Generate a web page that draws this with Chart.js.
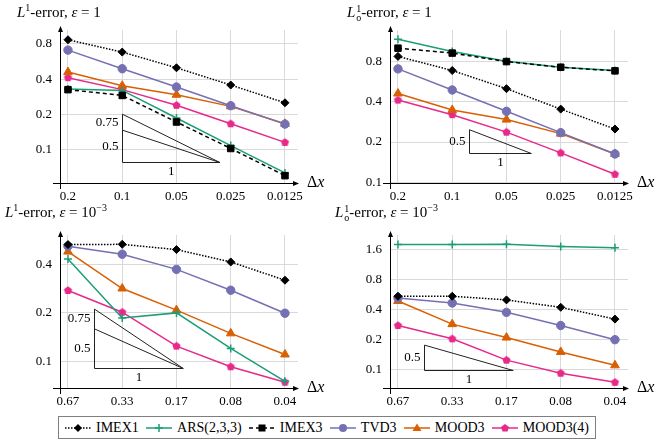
<!DOCTYPE html>
<html>
<head>
<meta charset="utf-8">
<script src="https://cdn.jsdelivr.net/npm/chart.js@4.4.1/dist/chart.umd.min.js"></script>
<style>
  html, body { margin: 0; padding: 0; background: #fff; }
  #wrap { position: relative; width: 661px; height: 443px; font-family: "Liberation Serif", "DejaVu Serif", serif; color: #000; }
  .panel { position: absolute; width: 330px; height: 205px; }
  .title { position: absolute; font-size: 15px; white-space: nowrap; line-height: 18px; }
  .title sup { font-size: 10px; vertical-align: 6px; line-height: 0; }
  .ss { display: inline-block; vertical-align: -4px; line-height: 9px; font-size: 10px; margin-left: 1px; }
  .ss span { display: block; }
  #legend { position: absolute; left: 58px; top: 416px; width: 538px; height: 23px; border: 1px solid #7f7f7f;
            display: flex; align-items: center; justify-content: space-between; padding: 0 6px; box-sizing: border-box; font-size: 14px; }
  #legend .item { display: flex; align-items: center; }
  #legend svg { margin-right: 5px; }
</style>
</head>
<body>
<div id="wrap">
  <div class="panel" style="left:0;top:0"><canvas id="c1" width="330" height="205"></canvas></div>
  <div class="panel" style="left:330px;top:0"><canvas id="c2" width="330" height="205"></canvas></div>
  <div class="panel" style="left:0;top:205px"><canvas id="c3" width="330" height="205"></canvas></div>
  <div class="panel" style="left:330px;top:205px"><canvas id="c4" width="330" height="205"></canvas></div>

  <div class="title" style="left:17px;top:3px"><i>L</i><sup>1</sup>-error, <i>ε</i> = 1</div>
  <div class="title" style="left:347px;top:3px"><i>L</i><span class="ss"><span>1</span><span>o</span></span>-error, <i>ε</i> = 1</div>
  <div class="title" style="left:5px;top:203px"><i>L</i><sup>1</sup>-error, <i>ε</i> = 10<sup>−3</sup></div>
  <div class="title" style="left:335px;top:203px"><i>L</i><span class="ss"><span>1</span><span>o</span></span>-error, <i>ε</i> = 10<sup>−3</sup></div>

  <div id="legend"></div>
</div>

<script>
// x tick labels (grid sizes)
const dxTop = ['0.2', '0.1', '0.05', '0.025', '0.0125'];
const dxBottom = ['0.67', '0.33', '0.17', '0.08', '0.04'];

// y tick labels
const yTicksA = [0.1, 0.2, 0.4, 0.8];
const yTicksB = [0.1, 0.2, 0.4];
const yTicksC = [0.1, 0.2, 0.4, 0.8, 1.6];

// L1 error, eps = 1
const l1Eps1Imex1 = [0.866, 0.68, 0.50, 0.357, 0.252];
const l1Eps1Ars = [0.330, 0.321, 0.187, 0.109, 0.0638];
const l1Eps1Imex3 = [0.326, 0.291, 0.173, 0.103, 0.0605];
const l1Eps1Tvd3 = [0.707, 0.491, 0.343, 0.238, 0.166];
const l1Eps1Mood3 = [0.460, 0.352, 0.295, 0.235, 0.167];
const l1Eps1Mood34 = [0.412, 0.326, 0.240, 0.167, 0.116];

// L1_o error, eps = 1
const lo1Eps1Imex1 = [0.870, 0.683, 0.500, 0.352, 0.250];
const lo1Eps1Ars = [1.167, 0.947, 0.800, 0.722, 0.683];
const lo1Eps1Imex3 = [1.002, 0.921, 0.796, 0.722, 0.679];
const lo1Eps1Tvd3 = [0.702, 0.489, 0.339, 0.235, 0.163];
const lo1Eps1Mood3 = [0.460, 0.347, 0.294, 0.231, 0.163];
const lo1Eps1Mood34 = [0.411, 0.320, 0.237, 0.166, 0.115];

// L1 error, eps = 1e-3
const l1Eps3Imex1 = [0.534, 0.536, 0.497, 0.416, 0.320];
const l1Eps3Ars = [0.434, 0.186, 0.200, 0.120, 0.0748];
const l1Eps3Tvd3 = [0.522, 0.465, 0.374, 0.277, 0.199];
const l1Eps3Mood3 = [0.483, 0.284, 0.208, 0.149, 0.110];
const l1Eps3Mood34 = [0.276, 0.202, 0.124, 0.0921, 0.0738];

// L1_o error, eps = 1e-3
const lo1Eps3Imex1 = [0.543, 0.543, 0.499, 0.421, 0.321];
const lo1Eps3Ars = [1.783, 1.783, 1.797, 1.702, 1.651];
const lo1Eps3Tvd3 = [0.522, 0.465, 0.375, 0.277, 0.200];
const lo1Eps3Mood3 = [0.487, 0.286, 0.210, 0.151, 0.111];
const lo1Eps3Mood34 = [0.277, 0.204, 0.125, 0.0926, 0.0751];

const FONT = "'Liberation Serif', 'DejaVu Serif', serif";
Chart.defaults.font.family = FONT;
Chart.defaults.font.size = 13;
Chart.defaults.color = '#000';

function pentagon(color, r) {
  const c = document.createElement('canvas');
  const size = Math.ceil(r * 2 + 2);
  c.width = c.height = size;
  const g = c.getContext('2d');
  g.fillStyle = color;
  g.beginPath();
  for (let i = 0; i < 5; i++) {
    const a = -Math.PI / 2 + i * 2 * Math.PI / 5;
    g.lineTo(size / 2 + r * Math.cos(a), size / 2 + r * Math.sin(a));
  }
  g.closePath();
  g.fill();
  return c;
}

const styles = {
  'IMEX1':      { color: '#000000', dash: [1.5, 1.5], point: 'rectRot', radius: 4 },
  'ARS(2,3,3)': { color: '#1b9e77', dash: [], point: 'cross', radius: 4 },
  'IMEX3':      { color: '#000000', dash: [4, 3], point: 'rect', radius: 4.6 },
  'TVD3':       { color: '#7570b3', dash: [], point: 'circle', radius: 4.2 },
  'MOOD3':      { color: '#d95f02', dash: [], point: 'triangle', radius: 5 },
  'MOOD3(4)':   { color: '#e7298a', dash: [], point: pentagon('#e7298a', 4.3), radius: 4.3 }
};

function series(name, values) {
  const s = styles[name];
  return {
    label: name,
    data: values.map((v, i) => ({ x: i, y: v })),
    borderColor: s.color,
    backgroundColor: s.color,
    borderWidth: 1.5,
    borderDash: s.dash,
    pointStyle: s.point,
    pointRadius: s.radius,
    pointBorderWidth: name === 'ARS(2,3,3)' ? 1.5 : 1,
    pointBackgroundColor: s.color,
    pointBorderColor: s.color,
    tension: 0,
    clip: false
  };
}

// axes with arrows, delta-x label and slope triangles
const decor = {
  id: 'decor',
  beforeDatasetsDraw(chart, args, opts) {
    const { ctx, chartArea: a, scales: { x, y } } = chart;
    ctx.save();
    ctx.strokeStyle = '#000';
    ctx.fillStyle = '#000';
    ctx.lineWidth = 1;
    ctx.beginPath();
    ctx.moveTo(a.left - 7, a.bottom + 0.5);
    ctx.lineTo(a.right, a.bottom + 0.5);
    ctx.moveTo(a.left + 0.5, a.bottom + 6);
    ctx.lineTo(a.left + 0.5, a.top - 3);
    ctx.stroke();
    ctx.beginPath();
    ctx.moveTo(a.right + 1, a.bottom + 0.5);
    ctx.lineTo(a.right - 5, a.bottom - 2);
    ctx.lineTo(a.right - 5, a.bottom + 3);
    ctx.closePath();
    ctx.fill();
    ctx.beginPath();
    ctx.moveTo(a.left + 0.5, a.top - 4);
    ctx.lineTo(a.left - 2, a.top + 2);
    ctx.lineTo(a.left + 3, a.top + 2);
    ctx.closePath();
    ctx.fill();

    ctx.textBaseline = 'middle';
    ctx.textAlign = 'left';
    ctx.font = '16px ' + FONT;
    ctx.fillText('Δ', a.right + 9, a.bottom);
    const w = ctx.measureText('Δ').width;
    ctx.font = 'italic 16px ' + FONT;
    ctx.fillText('x', a.right + 9 + w, a.bottom);

    const t = opts.triangle;
    if (t) {
      const xl = Math.round(x.getPixelForValue(t.x0)) + 0.5;
      const xr = x.getPixelForValue(t.x1);
      const yb = Math.round(y.getPixelForValue(t.base)) + 0.5;
      const tops = t.slopes.map(s => y.getPixelForValue(t.base * Math.pow(2, s * (t.x1 - t.x0))));
      ctx.strokeStyle = '#222';
      ctx.beginPath();
      ctx.moveTo(xl, Math.min(...tops));
      ctx.lineTo(xl, yb);
      ctx.lineTo(xr, yb);
      tops.forEach(ty => { ctx.moveTo(xl, ty); ctx.lineTo(xr, yb); });
      ctx.stroke();
      ctx.font = '13px ' + FONT;
      ctx.textAlign = 'right';
      const edges = tops.concat([yb]);
      t.slopes.forEach((s, i) => {
        ctx.fillText(String(s), xl - 4, (edges[i] + edges[i + 1]) / 2);
      });
      ctx.textAlign = 'center';
      ctx.fillText('1', (xl + xr) / 2, yb + 9);
    }
    ctx.restore();
  }
};

function makeChart(id, labels, yMin, yMax, yTicks, datasets, triangle) {
  return new Chart(document.getElementById(id), {
    type: 'line',
    data: { datasets },
    plugins: [decor],
    options: {
      responsive: false,
      animation: false,
      events: [],
      layout: { padding: { left: 0, right: 32, top: 30, bottom: 0 } },
      plugins: { legend: { display: false }, tooltip: { enabled: false }, decor: { triangle } },
      scales: {
        x: {
          type: 'linear', min: -0.147, max: 4.24,
          afterBuildTicks: s => { s.ticks = labels.map((_, i) => ({ value: i })); },
          afterFit: s => { s.height = 22; },
          ticks: { callback: v => labels[v], autoSkip: false, maxRotation: 0, padding: 6,
                   color: '#000', font: { family: FONT, size: 13 } },
          grid: { color: '#d9d9d9', drawTicks: false },
          border: { display: false }
        },
        y: {
          type: 'logarithmic', min: yMin, max: yMax,
          afterBuildTicks: s => { s.ticks = yTicks.map(v => ({ value: v })); },
          afterFit: s => { s.width = 60; },
          ticks: { callback: v => String(v), autoSkip: false, padding: 8,
                   color: '#000', font: { family: FONT, size: 13 } },
          grid: { color: '#d9d9d9', drawTicks: false },
          border: { display: false }
        }
      }
    }
  });
}

function drawAll() {
  makeChart('c1', dxTop, 0.0524, 1.048, yTicksA, [
    series('IMEX1', l1Eps1Imex1),
    series('IMEX3', l1Eps1Imex3),
    series('ARS(2,3,3)', l1Eps1Ars),
    series('TVD3', l1Eps1Tvd3),
    series('MOOD3', l1Eps1Mood3),
    series('MOOD3(4)', l1Eps1Mood34)
  ], { x0: 1, x1: 2.8, base: 0.079, slopes: [0.75, 0.5] });

  makeChart('c2', dxTop, 0.099, 1.369, yTicksA, [
    series('IMEX1', lo1Eps1Imex1),
    series('IMEX3', lo1Eps1Imex3),
    series('ARS(2,3,3)', lo1Eps1Ars),
    series('TVD3', lo1Eps1Tvd3),
    series('MOOD3', lo1Eps1Mood3),
    series('MOOD3(4)', lo1Eps1Mood34)
  ], { x0: 1.314, x1: 2.459, base: 0.166, slopes: [0.5] });

  makeChart('c3', dxBottom, 0.0679, 0.613, yTicksB, [
    series('IMEX1', l1Eps3Imex1),
    series('ARS(2,3,3)', l1Eps3Ars),
    series('TVD3', l1Eps3Tvd3),
    series('MOOD3', l1Eps3Mood3),
    series('MOOD3(4)', l1Eps3Mood34)
  ], { x0: 0.485, x1: 2.125, base: 0.090, slopes: [0.75, 0.5] });

  makeChart('c4', dxBottom, 0.0659, 2.219, yTicksC, [
    series('IMEX1', lo1Eps3Imex1),
    series('ARS(2,3,3)', lo1Eps3Ars),
    series('TVD3', lo1Eps3Tvd3),
    series('MOOD3', lo1Eps3Mood3),
    series('MOOD3(4)', lo1Eps3Mood34)
  ], { x0: 0.485, x1: 2.125, base: 0.100, slopes: [0.5] });
}

// shared legend
function swatch(name) {
  const s = styles[name];
  const dash = s.dash.length ? ` stroke-dasharray="${s.dash.join(' ')}"` : '';
  let mark = '';
  const c = s.color;
  if (name === 'IMEX1') mark = `<polygon points="13,1 17,5 13,9 9,5" fill="${c}"/>`;
  else if (name === 'ARS(2,3,3)') mark = `<path d="M9,5H17M13,1V9" stroke="${c}" stroke-width="1.5"/>`;
  else if (name === 'IMEX3') mark = `<rect x="9.5" y="1.5" width="7" height="7" fill="${c}"/>`;
  else if (name === 'TVD3') mark = `<circle cx="13" cy="5" r="4" fill="${c}"/>`;
  else if (name === 'MOOD3') mark = `<polygon points="13,0.5 17.5,8 8.5,8" fill="${c}"/>`;
  else mark = `<polygon points="13,1 17,4 15.5,8.5 10.5,8.5 9,4" fill="${c}"/>`;
  return `<svg width="26" height="10" viewBox="0 0 26 10"><line x1="0" y1="5" x2="26" y2="5" stroke="${c}" stroke-width="1.5"${dash}/>${mark}</svg>`;
}
document.getElementById('legend').innerHTML = Object.keys(styles).map(name =>
  `<div class="item">${swatch(name)}<span>${name}</span></div>`).join('');

Promise.all([
  document.fonts.load("13px 'Liberation Serif'"),
  document.fonts.load("italic 16px 'Liberation Serif'")
]).catch(() => {}).then(drawAll);
</script>
</body>
</html>
